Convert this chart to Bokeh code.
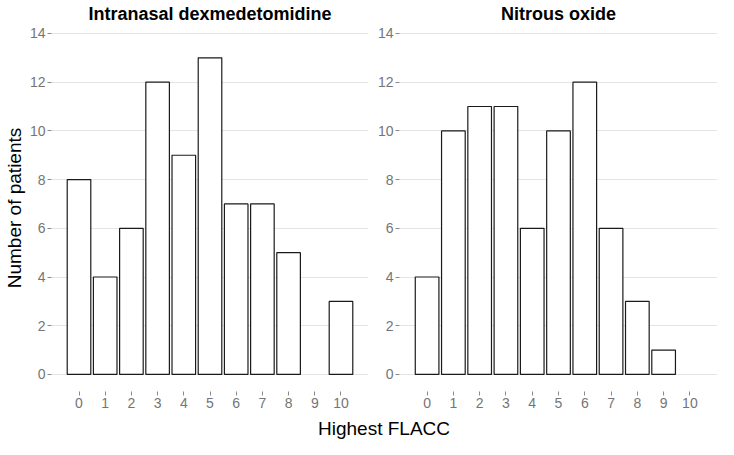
from bokeh.plotting import figure
from bokeh.layouts import row, column
from bokeh.models import ColumnDataSource, Range1d, FixedTicker, Label
from bokeh.embed import file_html
from bokeh.resources import INLINE

# ---- data ----
scores = list(range(11))
dex_counts = [8, 4, 6, 12, 9, 13, 7, 7, 5, 0, 3]
n2o_counts = [4, 10, 11, 11, 6, 10, 12, 6, 3, 1, 0]
panel_titles = ["Intranasal dexmedetomidine", "Nitrous oxide"]
y_ticks = [0, 2, 4, 6, 8, 10, 12, 14]
x_label = "Highest FLACC"
y_label = "Number of patients"

# ---- layout constants ----
FONT = "Liberation Sans"
TOTAL_W = 717
ROW_H = 416
XLAB_H = 23
TOP_B, BOT_B = 22, 25
L1, R1, L2, R2 = 50, 6, 25, 0
FW = (TOTAL_W - L1 - R1 - L2 - R2) // 2
FH = ROW_H - TOP_B - BOT_B
UNIT = (FH - 9) / 14.7
Y_LO, Y_HI = -0.7, 14 + 9 / UNIT


def panel(title, counts, left, right, ylab):
    xs = [s for s, c in zip(scores, counts) if c > 0]
    tops = [c for c in counts if c > 0]
    src = ColumnDataSource(dict(x=xs, top=tops))
    p = figure(width=left + FW + right, height=ROW_H,
               x_range=Range1d(-1.05, 11.05), y_range=Range1d(Y_LO, Y_HI),
               output_backend="svg", toolbar_location=None,
               min_border_left=left, min_border_right=right,
               min_border_top=TOP_B, min_border_bottom=BOT_B)
    p.vbar(x="x", top="top", width=0.9, source=src,
           fill_color="white", line_color="#1a1a1a", line_width=1.2)
    p.outline_line_color = None
    p.background_fill_color = "white"
    p.border_fill_color = "white"
    p.title.text = title
    p.title.align = "center"
    p.title.text_font = FONT
    p.title.text_font_size = "18px"
    p.title.text_font_style = "bold"
    p.title.text_color = "black"
    p.title.standoff = 2
    p.xgrid.visible = False
    p.ygrid.grid_line_color = "#e4e4e4"
    p.ygrid.grid_line_width = 1
    p.xaxis.ticker = FixedTicker(ticks=scores)
    p.yaxis.ticker = FixedTicker(ticks=y_ticks)
    for ax in (p.xaxis, p.yaxis):
        ax.axis_line_color = None
        ax.major_tick_line_color = "#8a8a8a"
        ax.major_tick_out = 4
        ax.major_tick_in = 0
        ax.minor_tick_line_color = None
        ax.major_label_text_color = "#757575"
        ax.major_label_text_font = FONT
        ax.major_label_text_font_size = "14px"
        ax.major_label_standoff = 2
    if ylab:
        p.yaxis.axis_label = ylab
        p.yaxis.axis_label_text_font = FONT
        p.yaxis.axis_label_text_font_size = "19px"
        p.yaxis.axis_label_text_font_style = "normal"
        p.yaxis.axis_label_text_color = "black"
        p.yaxis.axis_label_standoff = 2
    return p


p1 = panel(panel_titles[0], dex_counts, L1, R1, y_label)
p2 = panel(panel_titles[1], n2o_counts, L2, R2, None)

p3 = figure(width=TOTAL_W, height=XLAB_H, x_range=Range1d(0, TOTAL_W),
            y_range=Range1d(0, XLAB_H), output_backend="svg",
            toolbar_location=None, x_axis_location=None, y_axis_location=None,
            min_border=0)
p3.outline_line_color = None
p3.grid.visible = False
p3.add_layout(Label(x=(L1 + TOTAL_W - R2) / 2, y=XLAB_H / 2, text=x_label,
                    text_align="center", text_baseline="middle",
                    text_font=FONT, text_font_size="19px", text_color="black"))

layout = column(row(p1, p2), p3)
open("out.html", "w").write(file_html(layout, INLINE))
